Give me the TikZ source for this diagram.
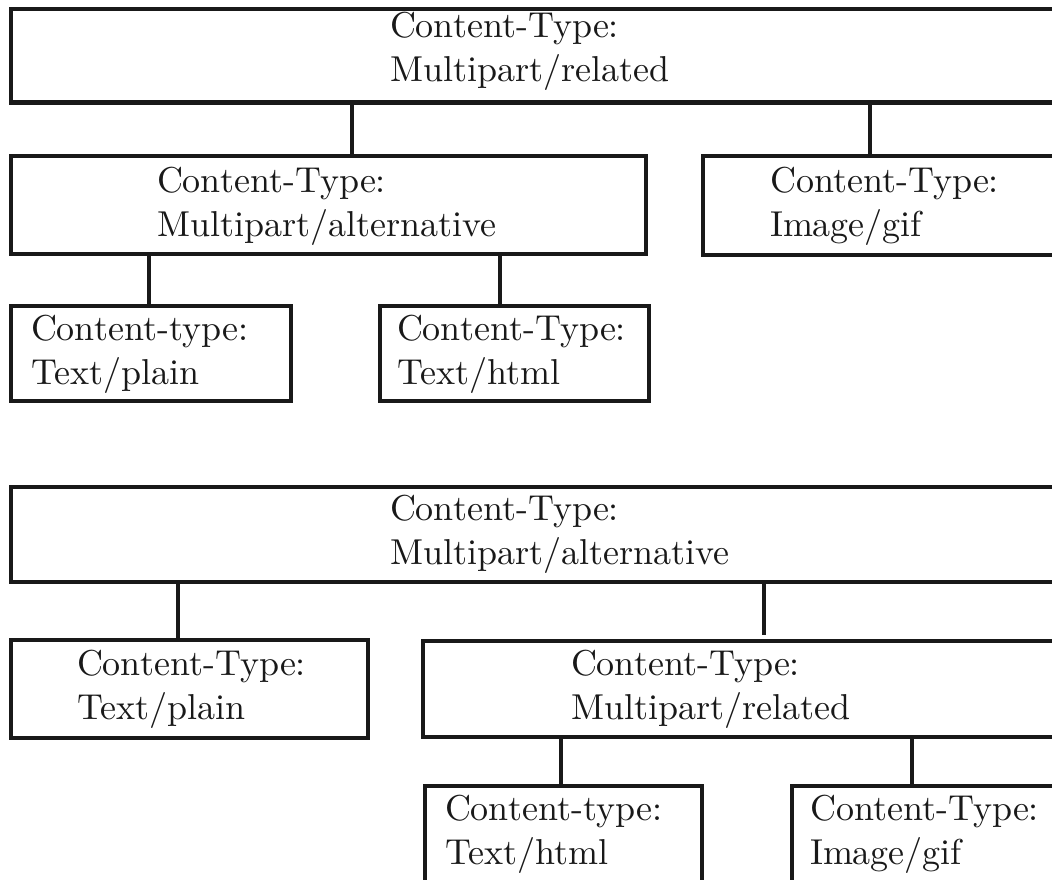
\documentclass[tikz,border=0pt]{standalone}
\usepackage{fontspec}
% text design size of Latin Modern kept at 10pt for every scale
\setmainfont{lmroman10-regular}[Extension=.otf]
\newcommand{\twolines}[2]{\vtop{\baselineskip=44pt\lineskiplimit=-100pt\hbox{#1}\hbox{#2}}}
\begin{document}
\begin{tikzpicture}[x=1pt,y=-1pt,
  ink/.style={draw=black!90, line width=4.8pt},
  mbox/.style={ink, rectangle, anchor=north west, inner sep=0pt, outer sep=0pt},
  label/.style={anchor=base west, inner sep=0pt, outer sep=0pt, text=black!90,
    font=\fontsize{36}{44}\selectfont},
  link/.style={ink, line width=4.3pt, line cap=butt}]
\useasboundingbox (0,0) rectangle (1052,880);
\clip (0,0) rectangle (1052,880);

% upper tree: related containing alternative and an image
\node[mbox, minimum width=1054pt, minimum height=93.5pt] (A) at (11,9) {};
\node[mbox, minimum width=635pt,  minimum height=98pt]   (B) at (11,156) {};
\node[mbox, minimum width=362pt,  minimum height=99pt]   (C) at (703,156) {};
\node[mbox, minimum width=280pt,  minimum height=95pt]   (D) at (11,306) {};
\node[mbox, minimum width=269pt,  minimum height=95pt]   (E) at (380,306) {};

\node[label] (tA) at (390,38)  {\twolines{Content-Type:}{Multipart/related}};
\node[label] (tB) at (157,192) {\twolines{Content-Type:}{Multipart/alternative}};
\node[label] (tC) at (770,192) {\twolines{Content-Type:}{Image/gif}};
\node[label] (tD) at (31,340)  {\twolines{Content-type:}{Text/plain}};
\node[label] (tE) at (397,340) {\twolines{Content-Type:}{Text/html}};

\draw[link] (352,0 |- A.south) -- (352,0 |- B.north);
\draw[link] (870,0 |- A.south) -- (870,0 |- C.north);
\draw[link] (149,0 |- B.south) -- (149,0 |- D.north);
\draw[link] (500,0 |- B.south) -- (500,0 |- E.north);

% lower tree: alternative containing plain text and a related part
\node[mbox, minimum width=1054pt, minimum height=95pt]  (F) at (11,487) {};
\node[mbox, minimum width=357pt,  minimum height=98pt]  (G) at (11,640) {};
\node[mbox, minimum width=642pt,  minimum height=96pt]  (H) at (423,641) {};
\node[mbox, minimum width=277pt,  minimum height=114pt] (I) at (425,786) {};
\node[mbox, minimum width=273pt,  minimum height=114pt] (J) at (792,786) {};

\node[label] (tF) at (390,520) {\twolines{Content-Type:}{Multipart/alternative}};
\node[label] (tG) at (77,675)  {\twolines{Content-Type:}{Text/plain}};
\node[label] (tH) at (571,675) {\twolines{Content-Type:}{Multipart/related}};
\node[label] (tI) at (445,820) {\twolines{Content-type:}{Text/html}};
\node[label] (tJ) at (810,820) {\twolines{Content-Type:}{Image/gif}};

\draw[link] (178,0 |- F.south) -- (178,0 |- G.north);
\draw[link, shorten >=6pt] (764,0 |- F.south) -- (764,0 |- H.north);
\draw[link] (561,0 |- H.south) -- (561,0 |- I.north);
\draw[link] (912,0 |- H.south) -- (912,0 |- J.north);
\end{tikzpicture}
\end{document}
